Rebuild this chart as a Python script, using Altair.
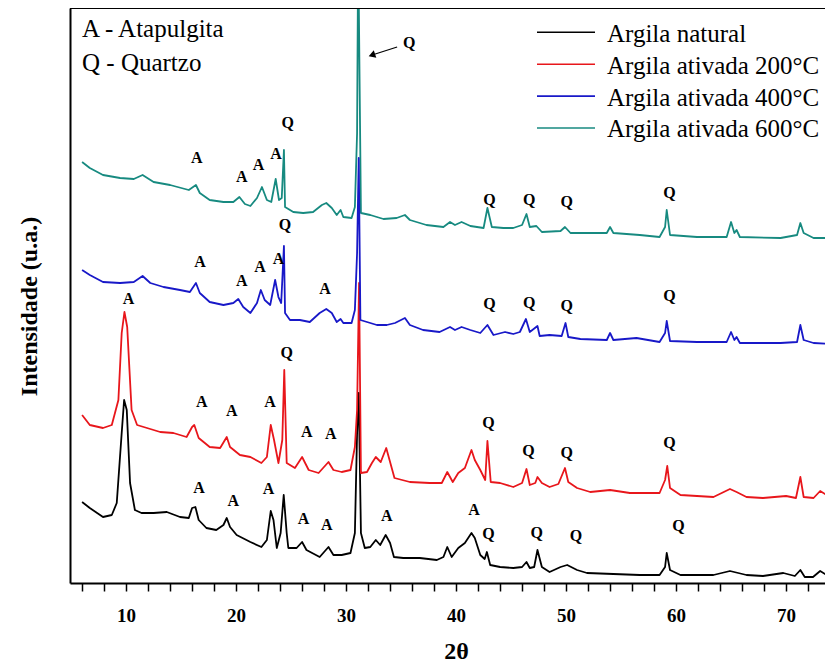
import altair as alt
import pandas as pd

series_names = ["Argila natural", "Argila ativada 200°C", "Argila ativada 400°C", "Argila ativada 600°C"]
series_colors = ["#000000", "#e8161b", "#1818c8", "#178a80"]

natural_2theta = [6.0, 6.7, 7.9, 8.7, 9.15, 9.6, 9.82, 10.06, 10.36, 10.8, 11.4, 12.5, 13.7, 14.9, 15.7, 16.0, 16.3, 16.6,
                  17.3, 18.2, 18.85, 19.15, 19.45, 20.05, 21.3, 22.3, 22.8, 23.15, 23.4, 23.7, 24.05, 24.33, 24.6, 24.75,
                  25.5, 26.0, 26.4, 27.6, 28.4, 28.85, 29.6, 30.4, 30.8, 31.0, 31.15, 31.35, 31.7, 32.2, 32.7, 33.1, 33.6,
                  34.0, 34.35, 35.2, 36.7, 38.25, 38.85, 39.2, 39.6, 40.2, 40.8, 41.4, 41.7, 42.2, 42.6, 42.8, 43.1, 44.0,
                  45.2, 46.0, 46.4, 46.7, 47.1, 47.4, 47.8, 48.5, 49.5, 50.1, 51.0, 51.9, 54.3, 56.7, 58.5, 59.0, 59.15,
                  59.45, 60.4, 63.4, 64.9, 66.4, 67.9, 69.75, 70.8, 71.3, 71.7, 72.45, 73.1, 73.85, 74.3]
natural_int = [81, 75, 66, 68, 80, 150, 183, 173, 100, 73, 70, 70, 71, 66, 65, 75, 76, 63,
               55, 53, 58, 65, 56, 48, 41, 36, 43, 72, 63, 35, 50, 88, 50, 35,
               35, 41, 33, 26, 36, 28, 28, 30, 50, 150, 190, 50, 35, 36, 43, 38, 48,
               40, 26, 25, 25, 23, 26, 36, 26, 35, 40, 50, 45, 28, 24, 31, 18, 16,
               15, 16, 21, 15, 16, 33, 16, 11, 16, 18, 13, 10, 9, 8, 8, 16, 30,
               13, 8, 8, 12, 8, 7, 10, 7, 13, 6, 6, 12, 7, 9]

red_2theta = [6.0, 6.7, 7.9, 8.7, 9.3, 9.6, 9.85, 10.1, 10.5, 11.0, 11.9, 13.1, 14.3, 15.5, 16.0, 16.2, 16.6, 17.6, 18.55,
              19.15, 19.45, 20.35, 21.3, 22.3, 22.8, 23.15, 23.45, 23.85, 24.2, 24.38, 24.6, 25.35, 26.0, 26.6, 27.5,
              28.4, 28.85, 29.6, 30.4, 30.8, 31.0, 31.18, 31.35, 31.9, 32.35, 32.7, 33.15, 33.65, 33.95, 34.4, 35.8,
              37.6, 38.7, 39.2, 39.7, 40.2, 40.8, 41.4, 41.7, 42.2, 42.65, 42.85, 43.15, 44.0, 45.2, 46.0, 46.4, 46.7,
              47.2, 47.4, 47.8, 48.5, 49.3, 49.9, 50.2, 51.0, 52.2, 54.0, 55.8, 58.5, 59.0, 59.2, 59.45, 60.4, 63.4,
              64.9, 65.5, 66.4, 67.9, 70.0, 70.9, 71.3, 71.6, 72.5, 73.1, 73.85, 74.3]
red_int = [168, 158, 155, 158, 183, 250, 271, 256, 173, 158, 155, 151, 150, 146, 156, 158, 145, 136, 135,
           146, 136, 128, 126, 120, 126, 158, 143, 120, 143, 213, 120, 115, 126, 113, 110,
           121, 113, 111, 113, 136, 173, 300, 110, 111, 120, 126, 121, 135, 123, 105, 101,
           100, 100, 111, 101, 110, 115, 133, 123, 113, 103, 142, 101, 100, 96, 100, 114, 98,
           100, 106, 100, 96, 99, 115, 101, 95, 91, 93, 90, 90, 103, 117, 95, 88, 86,
           94, 91, 86, 85, 87, 85, 106, 86, 85, 92, 87, 88]

blue_2theta = [6.0, 6.7, 7.9, 9.45, 10.7, 11.5, 12.2, 13.4, 14.9, 15.8, 16.35, 16.7, 17.6, 18.85, 19.75, 20.2, 20.65,
               21.3, 21.9, 22.25, 22.6, 23.1, 23.55, 23.85, 24.1, 24.35, 24.45, 24.9, 25.8, 26.7, 27.6, 28.2, 28.7,
               29.15, 29.5, 29.75, 30.5, 30.8, 31.0, 31.15, 31.3, 31.9, 32.8, 33.7, 34.45, 35.35, 35.8, 37.0, 38.5,
               39.45, 39.9, 40.5, 41.3, 42.2, 42.85, 43.4, 44.45, 45.2, 45.8, 46.35, 46.7, 47.4, 47.6, 48.5, 49.6,
               49.95, 50.2, 51.3, 53.7, 54.0, 54.3, 56.4, 58.5, 59.0, 59.15, 59.45, 61.9, 64.6, 65.0, 65.3, 65.5,
               65.8, 69.5, 71.0, 71.3, 71.6, 72.5, 74.3]
blue_int = [313, 308, 301, 300, 301, 307, 300, 296, 293, 291, 300, 290, 281, 278, 280, 284, 276,
            270, 280, 293, 283, 278, 303, 286, 280, 337, 270, 263, 263, 261, 270, 274, 270,
            261, 264, 260, 260, 273, 330, 425, 263, 261, 258, 258, 260, 265, 258, 253, 251,
            256, 253, 256, 253, 250, 258, 248, 251, 249, 251, 264, 251, 257, 247, 248, 247,
            260, 246, 244, 243, 250, 243, 245, 241, 250, 262, 242, 241, 241, 251, 243, 246,
            240, 240, 241, 258, 243, 240, 239]

teal_2theta = [6.0, 6.7, 7.9, 9.45, 10.7, 11.5, 12.5, 14.0, 15.7, 16.35, 16.7, 17.6, 18.85, 19.75, 20.3, 20.8, 21.3,
               21.9, 22.35, 22.8, 23.2, 23.6, 23.9, 24.15, 24.35, 24.45, 25.2, 26.1, 27.0, 27.8, 28.2, 28.7, 29.15,
               29.5, 29.75, 30.5, 30.8, 31.0, 31.1, 31.35, 32.2, 33.4, 34.6, 35.35, 35.8, 37.3, 38.85, 39.45, 39.9,
               40.5, 41.3, 42.5, 42.85, 43.25, 44.3, 45.2, 46.0, 46.4, 46.7, 47.3, 47.8, 49.5, 49.9, 50.4, 52.5,
               53.7, 54.0, 54.3, 56.7, 58.5, 59.0, 59.15, 59.45, 61.9, 64.6, 65.0, 65.3, 65.5, 65.8, 69.5, 71.0,
               71.3, 71.6, 72.5, 74.3]
teal_int = [421, 415, 408, 405, 404, 408, 401, 398, 393, 398, 390, 383, 381, 381, 386, 379, 377,
            385, 396, 383, 381, 404, 383, 385, 433, 376, 371, 370, 371, 378, 380, 375, 368,
            373, 366, 365, 376, 450, 640, 370, 368, 364, 365, 368, 363, 358, 356, 361, 358,
            361, 357, 355, 375, 356, 355, 355, 358, 369, 356, 357, 351, 352, 356, 350, 350,
            350, 356, 350, 348, 346, 356, 373, 348, 346, 346, 361, 350, 353, 346, 345, 348,
            360, 350, 345, 345]

label_text = ["A", "A", "A", "A", "Q", "Q", "Q", "Q", "Q",
              "A", "A", "A", "A", "Q", "A", "Q", "Q", "Q", "Q",
              "A", "A", "A", "A", "Q", "A", "A", "Q", "Q", "Q", "Q",
              "A", "A", "A", "A", "A", "A", "A", "Q", "Q", "Q", "Q",
              "Q"]
label_2theta = [16.43, 20.52, 22.03, 23.64, 24.7, 43.03, 46.66, 50.06, 59.39,
                16.73, 20.52, 22.18, 23.85, 24.45, 28.09, 43.03, 46.66, 50.06, 59.39,
                10.21, 16.88, 19.61, 23.09, 24.61, 26.43, 28.61, 42.94, 46.57, 50.06, 59.39,
                16.64, 19.75, 22.94, 26.12, 28.25, 33.7, 41.64, 42.94, 47.34, 50.91, 60.21,
                35.75]
label_int = [425, 406, 418, 429, 460, 383, 383, 381, 390,
             321, 302, 316, 324, 358, 294, 279, 280, 277, 287,
             284, 181, 172, 181, 230, 151, 149, 160, 132, 130, 140,
             95, 82, 94, 64, 58, 67, 73, 49, 50, 47, 57,
             540]

arrow_2theta = [34.64, 32.44]
arrow_int = [536, 528.3]

key_texts = ["A - Atapulgita", "Q - Quartzo"]

SERIF = "Liberation Serif, Times New Roman, Times, serif"
W, H = 755, 575

x_scale = alt.Scale(domain=[4.9, 73.54], nice=False, zero=False)
y_scale = alt.Scale(domain=[0, 575], nice=False, zero=False)
color_scale = alt.Scale(domain=series_names, range=series_colors)

x_axis = alt.Axis(
    values=list(range(6, 74, 2)),
    labelExpr="datum.value % 10 == 0 ? datum.label : ''",
    tickSize=8, tickWidth=1.5, tickColor="black",
    domainColor="black", domainWidth=2, grid=False,
    labelFont=SERIF, labelFontWeight="bold", labelFontSize=19, labelColor="black",
    labelPadding=15, labelFlush=False, labelOverlap=False,
    title="2θ", titleFont=SERIF, titleFontWeight="bold", titleFontSize=24, titleColor="black",
    titleX=386, titleY=75, titleAlign="center", titleBaseline="alphabetic",
)
y_axis = alt.Axis(
    ticks=False, labels=False, grid=False, domainColor="black", domainWidth=2,
    title="Intensidade (u.a.)", titleFont=SERIF, titleFontWeight="bold", titleFontSize=24,
    titleColor="black", titleX=-41, titleY=298, titleAngle=270, titleAlign="center",
    titleBaseline="middle",
)


def xenc(field):
    return alt.X(field, type="quantitative", scale=x_scale, axis=x_axis)


def yenc(field):
    return alt.Y(field, type="quantitative", scale=y_scale, axis=y_axis)


def series_df(name, xs, ys):
    return pd.DataFrame({"series": name, "two_theta": xs, "intensity": ys})


series_data = {
    series_names[0]: series_df(series_names[0], natural_2theta, natural_int),
    series_names[1]: series_df(series_names[1], red_2theta, red_int),
    series_names[2]: series_df(series_names[2], blue_2theta, blue_int),
    series_names[3]: series_df(series_names[3], teal_2theta, teal_int),
}

draw_order = [series_names[3], series_names[0], series_names[1], series_names[2]]
layers = []
for name in draw_order:
    layers.append(
        alt.Chart(series_data[name]).mark_line(clip=True, strokeWidth=1.8, strokeJoin="round").encode(
            x=xenc("two_theta"), y=yenc("intensity"),
            color=alt.Color("series:N", scale=color_scale, legend=None),
        )
    )

labels_df = pd.DataFrame({"t": label_text, "two_theta": label_2theta, "intensity": label_int})
layers.append(
    alt.Chart(labels_df).mark_text(font=SERIF, fontWeight="bold", fontSize=16, color="black",
                                   align="center", baseline="middle").encode(
        x=xenc("two_theta"), y=yenc("intensity"), text="t:N")
)

arrow_df = pd.DataFrame({"two_theta": arrow_2theta, "intensity": arrow_int})
layers.append(
    alt.Chart(arrow_df).mark_line(color="black", strokeWidth=1.2).encode(
        x=xenc("two_theta"), y=yenc("intensity"))
)
layers.append(
    alt.Chart(arrow_df.iloc[[1]]).mark_point(shape="triangle", filled=True, size=60, angle=251,
                                            color="black", opacity=1).encode(
        x=xenc("two_theta"), y=yenc("intensity"))
)

one = pd.DataFrame({"k": [0]})
# top frame line
layers.append(
    alt.Chart(one).mark_rule(color="black", strokeWidth=2).encode(
        x=alt.value(0), x2=alt.value(W), y=alt.value(0))
)
# key text top-left
for i, t in enumerate(key_texts):
    layers.append(
        alt.Chart(one).mark_text(font=SERIF, fontSize=25, color="black", align="left",
                                 baseline="alphabetic").encode(
            x=alt.value(12), y=alt.value(29 + 34 * i), text=alt.value(t))
    )
# legend
for i, name in enumerate(series_names):
    ly = 24.3 + 31.9 * i
    layers.append(
        alt.Chart(one).mark_rule(strokeWidth=1.6).encode(
            x=alt.value(467), x2=alt.value(525), y=alt.value(ly), color=alt.value(series_colors[i]))
    )
    layers.append(
        alt.Chart(one).mark_text(font=SERIF, fontSize=25, color="black", align="left",
                                 baseline="alphabetic").encode(
            x=alt.value(537), y=alt.value(ly + 9.4), text=alt.value(name))
    )

chart = alt.layer(*layers).properties(
    width=W, height=H,
    autosize=alt.AutoSizeParams(type="none"),
    padding={"left": 62, "top": 0, "right": 0, "bottom": 85},
    background="white",
).configure_view(stroke=None)

chart.save("out.html", embed_options={"renderer": "svg", "actions": False})
